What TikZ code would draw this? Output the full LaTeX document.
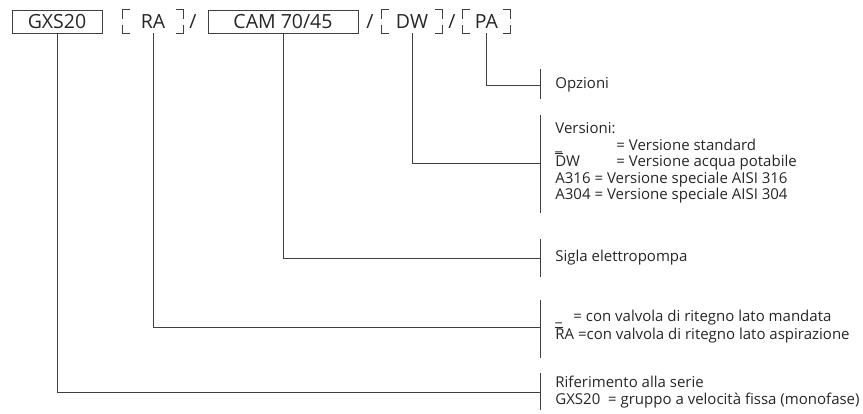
\documentclass[tikz,border=0pt]{standalone}
\usepackage{fontspec}
\setmainfont{Open Sans}
\usetikzlibrary{positioning}

% corner marks round an optional part of the code
\newcommand{\optmarks}[1]{%
  \draw[conn] ([yshift=3pt]#1.west) |- ([xshift=7pt]#1.north west);
  \draw[conn] ([yshift=-3pt]#1.west) |- ([xshift=7pt]#1.south west);
  \draw[conn] ([yshift=3pt]#1.east) |- ([xshift=-7pt]#1.north east);
  \draw[conn] ([yshift=-3pt]#1.east) |- ([xshift=-7pt]#1.south east);}
% small bar over the first letter
\newcommand{\barfirst}[1]{\rlap{\raisebox{0.84em}{\rule{0.48em}{0.05em}}}#1}

\begin{document}
\begin{tikzpicture}[x=1pt,y=-1pt,line width=0.8pt,
    lab/.style={font=\fontsize{15}{16.5}\selectfont, text=black!85},
    code/.style={font=\fontsize{19.5}{22}\selectfont, text=black!85},
    codebox/.style={code, draw=black!75, minimum height=23pt, inner sep=0pt},
    optbox/.style={code, minimum height=23pt, inner sep=0pt},
    descr/.style={lab, anchor=west, align=left, inner sep=0pt},
    conn/.style={draw=black!75}]
  \useasboundingbox (0,0) rectangle (863,413);

  % the code on top
  \node[codebox, minimum width=90pt] (gxs) at (57,21.5) {GXS20};
  \node[optbox, minimum width=60pt] (ra) at (153,21.5) {RA};
  \node[code] (sl1) at (193,21.5) {/};
  \node[codebox, minimum width=150pt] (cam) at (283,21.5) {CAM 70/45};
  \node[code] (sl2) at (370,21.5) {/};
  \node[optbox, minimum width=60pt] (dw) at (412,21.5) {DW};
  \node[code] (sl3) at (452,21.5) {/};
  \node[optbox, minimum width=47pt] (pa) at (486.5,21.5) {PA};
  \optmarks{ra}
  \optmarks{dw}
  \optmarks{pa}

  % the descriptions
  \node[descr] (opt) at (555,85) {Opzioni};
  \node[descr] (ver) at (555,163) {Versioni:\\
    \makebox[61pt][l]{\_}= Versione standard\\
    \makebox[61pt][l]{\barfirst{D}W}= Versione acqua potabile\\
    A316 = Versione speciale AISI 316\\
    A304 = Versione speciale AISI 304};
  \node[descr] (sig) at (555,258) {Sigla elettropompa};
  \node[descr] (val) at (555,327) {\makebox[18pt][l]{\_}= con valvola di ritegno lato mandata\\
    \barfirst{R}A =con valvola di ritegno lato aspirazione};
  \node[descr] (ser) at (555,392) {Riferimento alla serie\\
    GXS20\ \ = gruppo a velocità fissa (monofase)};

  % ticks in front of the descriptions
  \foreach \a/\b in {69/99, 115/213, 239/277, 300/358, 373/410}
    \draw[conn] (540,\a) -- (540,\b);
  \coordinate (optT) at (540,85);
  \coordinate (verT) at (540,163);
  \coordinate (sigT) at (540,258);
  \coordinate (valT) at (540,327);
  \coordinate (serT) at (540,392);

  % connectors
  \draw[conn] (pa.south) |- (optT);
  \draw[conn] (dw.south) |- (verT);
  \draw[conn] (cam.south) |- (sigT);
  \draw[conn] (ra.south) |- (valT);
  \draw[conn] (gxs.south) |- (serT);
\end{tikzpicture}
\end{document}
